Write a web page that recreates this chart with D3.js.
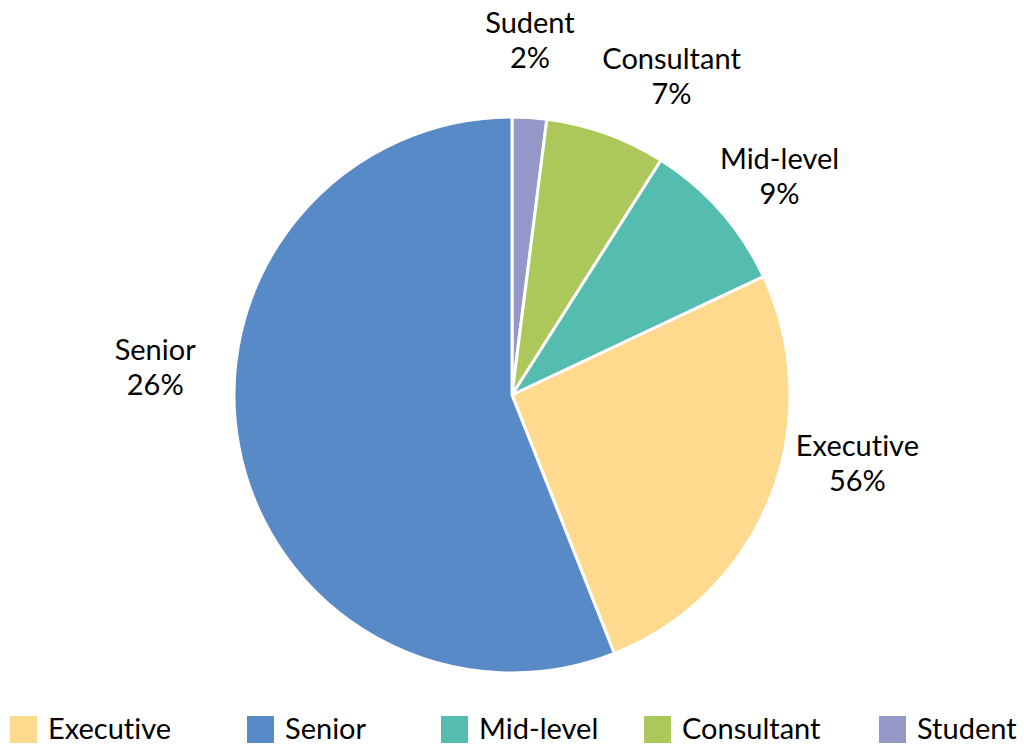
<!DOCTYPE html>
<html>
<head>
<meta charset="utf-8">
<script src="https://cdn.jsdelivr.net/npm/d3@7"></script>
<style>
  body { margin: 0; background: #fff; }
  text { font-family: Lato, "Open Sans", sans-serif; fill: #000; font-variant-ligatures: none; }
</style>
</head>
<body>
<div id="chart"></div>
<script>
// slices, clockwise from 12 o'clock
var categories = ["Student", "Consultant", "Mid-level", "Executive", "Senior"];
var values = [2, 7, 9, 26, 56];
// data labels as printed on the chart (kept as in the source)
var labelNames = ["Sudent", "Consultant", "Mid-level", "Executive", "Senior"];
var labelPcts = ["2%", "7%", "9%", "56%", "26%"];
// legend order
var legendNames = ["Executive", "Senior", "Mid-level", "Consultant", "Student"];

var colors = {
  "Executive": "#ffda8e",
  "Senior": "#578ac7",
  "Mid-level": "#55bcb0",
  "Consultant": "#adc85a",
  "Student": "#9398c9"
};

var width = 1024, height = 745;
var cx = 512, cy = 395, radius = 278;
var labelRadius = 350;
var fontSize = "29px";
// hand nudges for each label (layout only)
var labelNudge = [[-4, -13], [41, 3], [5, 5], [20, -68], [-13, -101]];
var legendX = [10, 247, 441, 644, 879];

var svg = d3.select("#chart").append("svg")
    .attr("width", width)
    .attr("height", height);

var g = svg.append("g").attr("transform", "translate(" + cx + "," + cy + ")");

var pie = d3.pie().sort(null).value(function(d) { return d; });
var arcs = pie(values);

var arc = d3.arc().innerRadius(0).outerRadius(radius);
var labelArc = d3.arc().innerRadius(labelRadius).outerRadius(labelRadius);

g.selectAll("path")
  .data(arcs)
  .enter().append("path")
    .attr("d", arc)
    .attr("fill", function(d, i) { return colors[categories[i]]; })
    .attr("stroke", "#fff")
    .attr("stroke-width", 3)
    .attr("stroke-linejoin", "round");

var lbl = g.selectAll(".lbl")
  .data(arcs)
  .enter().append("text")
    .attr("class", "lbl")
    .attr("text-anchor", "middle")
    .style("font-size", fontSize)
    .attr("transform", function(d, i) {
      var c = labelArc.centroid(d);
      return "translate(" + (c[0] + labelNudge[i][0]) + "," + (c[1] + labelNudge[i][1]) + ")";
    });

lbl.append("tspan").attr("x", 0).attr("y", 0).text(function(d, i) { return labelNames[i]; });
lbl.append("tspan").attr("x", 0).attr("y", 35).text(function(d, i) { return labelPcts[i]; });

var leg = svg.selectAll(".leg")
  .data(legendNames)
  .enter().append("g")
    .attr("class", "leg")
    .attr("transform", function(d, i) { return "translate(" + legendX[i] + ",716)"; });

leg.append("rect")
    .attr("width", 27)
    .attr("height", 27)
    .attr("fill", function(d) { return colors[d]; });

leg.append("text")
    .attr("x", 38)
    .attr("y", 23)
    .style("font-size", fontSize)
    .text(function(d) { return d; });
</script>
</body>
</html>
